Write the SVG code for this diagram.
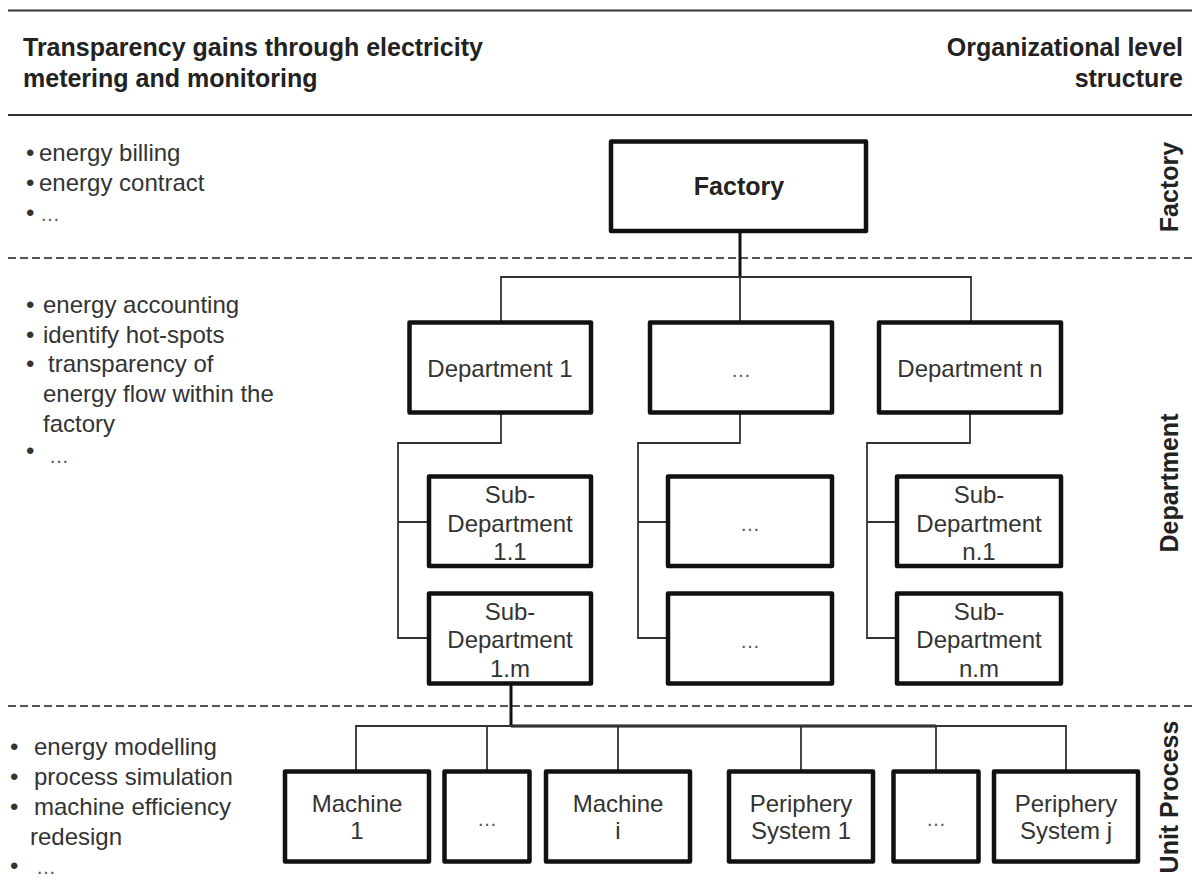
<svg xmlns="http://www.w3.org/2000/svg" width="1192" height="887" viewBox="0 0 1192 887">
  <style>
    .box { fill: #fff; stroke: #111; stroke-width: 4.5; stroke-linejoin: round; }
    .conn { fill: none; stroke: #333; stroke-width: 1.8; }
    .trunk { stroke: #111; stroke-width: 3; }
    .sep { stroke: #333; stroke-width: 2; }
    .dash { stroke: #555; stroke-width: 2; stroke-dasharray: 8 4; }
    .t { font-family: "Liberation Sans", Arial, sans-serif; font-size: 24px; fill: #333; }
    .c { text-anchor: middle; }
    .h { font-family: "Liberation Sans", Arial, sans-serif; font-weight: bold; font-size: 25px; fill: #222; }
    .dots { font-size: 20px; fill: #555; }
  </style>

  <rect width="1192" height="887" fill="#fff"/>

  <!-- header rules and titles -->
  <g id="header">
    <line class="sep" x1="8" y1="10.5" x2="1192" y2="10.5"/>
    <line class="sep" x1="8" y1="115" x2="1192" y2="115"/>
    <text class="h" x="23" y="56">Transparency gains through electricity</text>
    <text class="h" x="23" y="87">metering and monitoring</text>
    <text class="h" x="1183" y="56" text-anchor="end">Organizational level</text>
    <text class="h" x="1183" y="87" text-anchor="end">structure</text>
  </g>

  <!-- level separators -->
  <g id="separators">
    <line class="dash" x1="8" y1="258" x2="1192" y2="258"/>
    <line class="dash" x1="8" y1="706" x2="1192" y2="706"/>
  </g>

  <!-- level names -->
  <g id="level-labels">
    <text class="h c" transform="translate(1178,187) rotate(-90)">Factory</text>
    <text class="h c" transform="translate(1178,483) rotate(-90)">Department</text>
    <text class="h c" transform="translate(1178,797) rotate(-90)">Unit Process</text>
  </g>

  <!-- transparency gains per level -->
  <g id="gains-factory" class="t">
    <text x="26" y="161">•</text><text x="39" y="161">energy billing</text>
    <text x="26" y="191">•</text><text x="39" y="191">energy contract</text>
    <text x="26" y="221">•<tspan class="dots" x="40">…</tspan></text>
  </g>
  <g id="gains-department" class="t">
    <text x="26" y="313">•</text><text x="43" y="313">energy accounting</text>
    <text x="26" y="343">•</text><text x="43" y="343">identify hot-spots</text>
    <text x="26" y="372">•</text><text x="48" y="372">transparency of</text>
    <text x="43" y="402">energy flow within the</text>
    <text x="43" y="432">factory</text>
    <text x="26" y="459">•<tspan class="dots" x="49" y="463">…</tspan></text>
  </g>
  <g id="gains-unit" class="t">
    <text x="10" y="755">•</text><text x="34" y="755">energy modelling</text>
    <text x="10" y="785">•</text><text x="34" y="785">process simulation</text>
    <text x="10" y="815">•</text><text x="34" y="815">machine efficiency</text>
    <text x="30" y="845">redesign</text>
    <text x="10" y="874">•<tspan class="dots" x="36">…</tspan></text>
  </g>

  <!-- connectors -->
  <g id="connectors">
    <line class="conn trunk" x1="740" y1="232" x2="740" y2="277"/>
    <path class="conn" d="M501,322 V277 H971 V322 M740,277 V322"/>
    <path class="conn" d="M501,413 V443 H398 V638 H429 M398,522 H429"/>
    <path class="conn" d="M740,413 V443 H638 V638 H668 M638,522 H668"/>
    <path class="conn" d="M970,413 V443 H867 V638 H897 M867,522 H897"/>
    <line class="conn trunk" x1="511" y1="684" x2="511" y2="726"/>
    <line class="conn trunk" x1="511" y1="726" x2="936" y2="726"/>
    <path class="conn" d="M356,771 V726 H1066 V771 M487,726 V771 M618,726 V771 M801,726 V771 M936,726 V771"/>
  </g>

  <!-- factory -->
  <g id="node-factory">
    <rect class="box" x="611" y="141.5" width="255" height="89.5"/>
    <text class="h c" x="739" y="195">Factory</text>
  </g>

  <!-- departments -->
  <g id="node-dept-1">
    <rect class="box" x="409.5" y="322.5" width="181.5" height="90"/>
    <text class="t c" x="500" y="377">Department 1</text>
  </g>
  <g id="node-dept-mid">
    <rect class="box" x="650" y="322.5" width="182" height="90"/>
    <text class="t c dots" x="741" y="377">…</text>
  </g>
  <g id="node-dept-n">
    <rect class="box" x="879" y="322.5" width="182" height="90"/>
    <text class="t c" x="970" y="377">Department n</text>
  </g>

  <!-- sub-departments -->
  <g id="node-sub-1-1">
    <rect class="box" x="429" y="476.5" width="162" height="89.5"/>
    <text class="t c" x="510" y="503">Sub-</text>
    <text class="t c" x="510" y="532">Department</text>
    <text class="t c" x="510" y="560">1.1</text>
  </g>
  <g id="node-sub-1-m">
    <rect class="box" x="429" y="593.5" width="162" height="90"/>
    <text class="t c" x="510" y="620">Sub-</text>
    <text class="t c" x="510" y="648">Department</text>
    <text class="t c" x="510" y="677">1.m</text>
  </g>
  <g id="node-sub-mid-1">
    <rect class="box" x="668" y="476.5" width="164" height="89.5"/>
    <text class="t c dots" x="750" y="531">…</text>
  </g>
  <g id="node-sub-mid-2">
    <rect class="box" x="668" y="593.5" width="164" height="90"/>
    <text class="t c dots" x="750" y="648">…</text>
  </g>
  <g id="node-sub-n-1">
    <rect class="box" x="897" y="476.5" width="164" height="89.5"/>
    <text class="t c" x="979" y="503">Sub-</text>
    <text class="t c" x="979" y="532">Department</text>
    <text class="t c" x="979" y="560">n.1</text>
  </g>
  <g id="node-sub-n-m">
    <rect class="box" x="897" y="593.5" width="164" height="90"/>
    <text class="t c" x="979" y="620">Sub-</text>
    <text class="t c" x="979" y="648">Department</text>
    <text class="t c" x="979" y="677">n.m</text>
  </g>

  <!-- unit processes -->
  <g id="node-machine-1">
    <rect class="box" x="285" y="771.5" width="144" height="90"/>
    <text class="t c" x="357" y="812">Machine</text>
    <text class="t c" x="357" y="839">1</text>
  </g>
  <g id="node-machine-mid">
    <rect class="box" x="444.5" y="771.5" width="85" height="90"/>
    <text class="t c dots" x="487" y="826">…</text>
  </g>
  <g id="node-machine-i">
    <rect class="box" x="546" y="771.5" width="144" height="90"/>
    <text class="t c" x="618" y="812">Machine</text>
    <text class="t c" x="618" y="839">i</text>
  </g>
  <g id="node-periphery-1">
    <rect class="box" x="729" y="771.5" width="144" height="90"/>
    <text class="t c" x="801" y="812">Periphery</text>
    <text class="t c" x="801" y="839">System 1</text>
  </g>
  <g id="node-periphery-mid">
    <rect class="box" x="893.5" y="771.5" width="85" height="90"/>
    <text class="t c dots" x="936" y="826">…</text>
  </g>
  <g id="node-periphery-j">
    <rect class="box" x="994" y="771.5" width="144" height="90"/>
    <text class="t c" x="1066" y="812">Periphery</text>
    <text class="t c" x="1066" y="839">System j</text>
  </g>
</svg>
